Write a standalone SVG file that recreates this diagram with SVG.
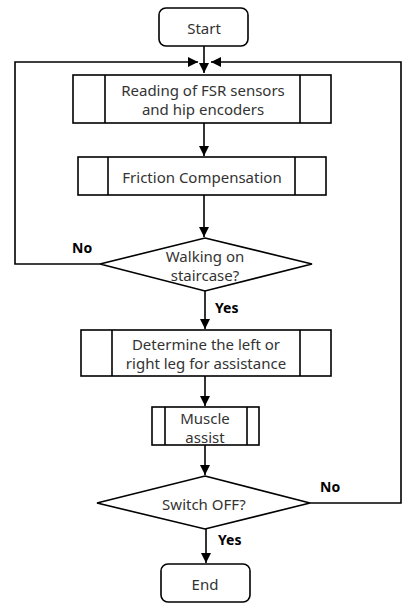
<svg xmlns="http://www.w3.org/2000/svg" width="403" height="605" viewBox="0 0 403 605">
<defs>
<marker id="ah" viewBox="0 0 10 10" refX="10" refY="5" markerWidth="10" markerHeight="10" markerUnits="userSpaceOnUse" orient="auto">
<path d="M0,0 L10,5 L0,10 Z" fill="#000"/>
</marker>
</defs>
<style>
.s{fill:#fff;stroke:#000;stroke-width:1.6}
.l{fill:none;stroke:#000;stroke-width:1.6}
.t{font-family:"Noto Sans","Open Sans",sans-serif;font-size:15px;fill:#333;text-anchor:middle;dominant-baseline:central}
.b{font-family:"Noto Sans","Open Sans",sans-serif;font-size:14px;font-weight:bold;fill:#000;dominant-baseline:central}
</style>
<rect width="403" height="605" fill="#fff"/>
<g id="connectors">
<line class="l" x1="204" y1="46" x2="204" y2="73" marker-end="url(#ah)"/>
<polyline class="l" points="100,264 15,264 15,62 198,62" marker-end="url(#ah)"/>
<polyline class="l" points="310,503 401,503 401,62 211,62" marker-end="url(#ah)"/>
<line class="l" x1="204" y1="123" x2="204" y2="156" marker-end="url(#ah)"/>
<line class="l" x1="204" y1="195" x2="204" y2="237" marker-end="url(#ah)"/>
<line class="l" x1="205" y1="291" x2="205" y2="329" marker-end="url(#ah)"/>
<line class="l" x1="205" y1="376" x2="205" y2="406" marker-end="url(#ah)"/>
<line class="l" x1="205" y1="445" x2="205" y2="475" marker-end="url(#ah)"/>
<line class="l" x1="206" y1="529" x2="206" y2="563" marker-end="url(#ah)"/>
<text class="b" x="72" y="247">No</text>
<text class="b" x="215" y="307">Yes</text>
<text class="b" x="320" y="486">No</text>
<text class="b" x="218" y="539">Yes</text>
</g>
<g id="start">
<rect class="s" x="159" y="8" width="89" height="38" rx="7"/>
<text class="t" x="204" y="28">Start</text>
</g>
<g id="read">
<rect class="s" x="73" y="75" width="258" height="48"/>
<line class="l" x1="105" y1="75" x2="105" y2="123"/>
<line class="l" x1="300" y1="75" x2="300" y2="123"/>
<text class="t" x="203" y="90">Reading of FSR sensors</text>
<text class="t" x="203" y="109">and hip encoders</text>
</g>
<g id="friction">
<rect class="s" x="78" y="157" width="248" height="38"/>
<line class="l" x1="108" y1="157" x2="108" y2="195"/>
<line class="l" x1="295" y1="157" x2="295" y2="195"/>
<text class="t" x="202" y="177">Friction Compensation</text>
</g>
<g id="stair">
<polygon class="s" points="205,238 312,264 205,291 100,264"/>
<text class="t" x="205" y="256">Walking on</text>
<text class="t" x="205" y="275">staircase?</text>
</g>
<g id="determine">
<rect class="s" x="81" y="330" width="250" height="46"/>
<line class="l" x1="112" y1="330" x2="112" y2="376"/>
<line class="l" x1="300" y1="330" x2="300" y2="376"/>
<text class="t" x="206" y="344">Determine the left or</text>
<text class="t" x="206" y="363">right leg for assistance</text>
</g>
<g id="muscle">
<rect class="s" x="152" y="407" width="107" height="38"/>
<line class="l" x1="165" y1="407" x2="165" y2="445"/>
<line class="l" x1="247" y1="407" x2="247" y2="445"/>
<text class="t" x="205" y="418">Muscle</text>
<text class="t" x="205" y="437">assist</text>
</g>
<g id="switch">
<polygon class="s" points="205,476 310,503 205,529 97,503"/>
<text class="t" x="204" y="504">Switch OFF?</text>
</g>
<g id="end">
<rect class="s" x="161" y="564" width="89" height="38" rx="7"/>
<text class="t" x="205" y="584">End</text>
</g>
</svg>
